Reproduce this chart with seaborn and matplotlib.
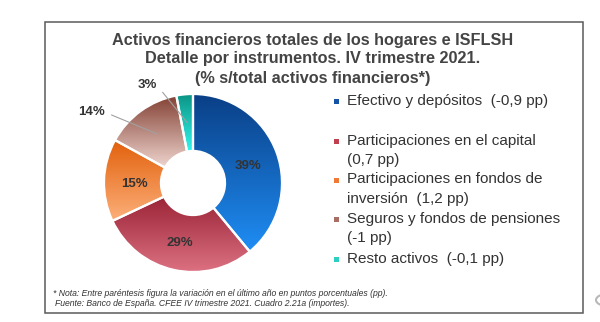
import numpy as np
import matplotlib
matplotlib.use("Agg")
import matplotlib.pyplot as plt
import matplotlib.patches as mpatches
from matplotlib.colors import LinearSegmentedColormap
import seaborn as sns

# ---- data ----
categories = ["Efectivo y depósitos", "Participaciones en el capital",
              "Participaciones en fondos de inversión",
              "Seguros y fondos de pensiones", "Resto activos"]
shares = [39, 29, 15, 14, 3]
pct_labels = ["39%", "29%", "15%", "14%", "3%"]
legend_labels = ["Efectivo y depósitos  (-0,9 pp)",
                 "Participaciones en el capital\n(0,7 pp)",
                 "Participaciones en fondos de\ninversión  (1,2 pp)",
                 "Seguros y fondos de pensiones\n(-1 pp)",
                 "Resto activos  (-0,1 pp)"]
title_lines = ["Activos financieros totales de los hogares e ISFLSH",
               "Detalle por instrumentos. IV trimestre 2021.",
               "(% s/total activos financieros*)"]
notes = ["* Nota: Entre paréntesis figura la variación en el último año en puntos porcentuales (pp).",
         "Fuente: Banco de España. CFEE IV trimestre 2021. Cuadro 2.21a (importes)."]

# gradient colours (top dark -> bottom light)
grad = [("#0a3f86", "#1f8ef5"),
        ("#9a2436", "#dc7182"),
        ("#e2600c", "#fcb07a"),
        ("#844235", "#f0d6d0"),
        ("#0b9484", "#33f6ee")]
legend_colors = ["#1553a8", "#c0404f", "#f07a35", "#a86d63", "#2ccfc0"]

sns.set_theme(style="white")
plt.rcParams["font.family"] = ["Liberation Sans", "DejaVu Sans"]

W, H = 600, 322
fig = plt.figure(figsize=(6, 3.22), dpi=100)
fig.patch.set_facecolor("white")

# frame
fig.patches.append(mpatches.Rectangle((45 / W, 1 - 313 / H), 538 / W, 291 / H,
                                      transform=fig.transFigure, fill=False,
                                      edgecolor="#5a5a5a", linewidth=1.1))
# artifact circle at right edge
fig.patches.append(mpatches.Circle((607 / W, 1 - 300 / H), 11 / W,
                                   transform=fig.transFigure, fill=False,
                                   edgecolor="#b8b8b8", linewidth=1.5))

# pie axes: center (193,183) px, radius 89 px, limits +-1.3
cx, cy, r = 193, 183, 89
half = 1.3 * r
ax = fig.add_axes([(cx - half) / W, (H - cy - half) / H, 2 * half / W, 2 * half / H])
ax.set_xlim(-1.3, 1.3)
ax.set_ylim(-1.3, 1.3)
ax.set_aspect("equal")
ax.axis("off")

wedges, _ = ax.pie(shares, startangle=90, counterclock=False, radius=1.0,
                   wedgeprops=dict(width=0.64, edgecolor="white", linewidth=1.6))

yy = np.linspace(0, 1, 256).reshape(-1, 1)
for w, (c0, c1) in zip(wedges, grad):
    w.set_facecolor("none")
    cmap = LinearSegmentedColormap.from_list("g", [c0, c1])
    th1, th2 = np.deg2rad(w.theta1), np.deg2rad(w.theta2)
    th = np.linspace(th1, th2, 100)
    ys = np.concatenate([np.sin(th), 0.36 * np.sin(th)])
    ymin, ymax = ys.min(), ys.max()
    im = ax.imshow(yy, cmap=cmap, extent=(-1.05, 1.05, ymin, ymax),
                   aspect="auto", zorder=0.5, interpolation="bilinear", origin="upper")
    im.set_clip_path(w)
    w.set_zorder(1)
ax.set_xlim(-1.3, 1.3)
ax.set_ylim(-1.3, 1.3)

# percentage labels
cum = np.cumsum([0] + shares[:-1])
mids = [90 - (c + s / 2) * 3.6 for c, s in zip(cum, shares)]
lab_kw = dict(fontsize=9.5, fontweight="bold", color="#333333", ha="center", va="center")
for i in range(3):
    a = np.deg2rad(mids[i])
    ax.text(0.66 * np.cos(a), 0.66 * np.sin(a) - 0.03, pct_labels[i], **lab_kw)

def px2data(x, y):
    return ((x - cx) / r, (cy - y) / r)

outside_pos = {3: (91, 112), 4: (147, 85)}
for i, (tx, ty) in outside_pos.items():
    a = np.deg2rad(mids[i])
    tdx, tdy = px2data(tx, ty)
    ax.annotate(pct_labels[i], xy=(0.68 * np.cos(a), 0.68 * np.sin(a)),
                xytext=(tdx, tdy), annotation_clip=False,
                arrowprops=dict(arrowstyle="-", color="#a0a0a0", lw=0.8,
                                relpos=(1.0, 0.5), shrinkA=3, shrinkB=0), **lab_kw)

# title
for k, line in enumerate(title_lines):
    fig.text(313 / W, 1 - (40 + 19 * k) / H, line, ha="center", va="center",
             fontsize=11.7, fontweight="bold", color="#444444")

# legend (manual)
leg_y = [102, 141, 180, 219, 259]
for lab, col, y in zip(legend_labels, legend_colors, leg_y):
    fig.patches.append(mpatches.Rectangle((333.5 / W, 1 - (y + 2.5) / H), 5 / W, 5 / H,
                                          transform=fig.transFigure, facecolor=col,
                                          edgecolor="none"))
    fig.text(347 / W, 1 - (y - 7.5) / H, lab, ha="left", va="top", fontsize=11.0,
             color="#333333", linespacing=1.5)

# notes
fig.text(53 / W, 1 - 293 / H, notes[0], ha="left", va="center", fontsize=6.2,
         style="italic", color="#333333")
fig.text(55 / W, 1 - 303 / H, notes[1], ha="left", va="center", fontsize=6.2,
         style="italic", color="#333333")

fig.savefig("out.png", dpi=100, facecolor="white")
